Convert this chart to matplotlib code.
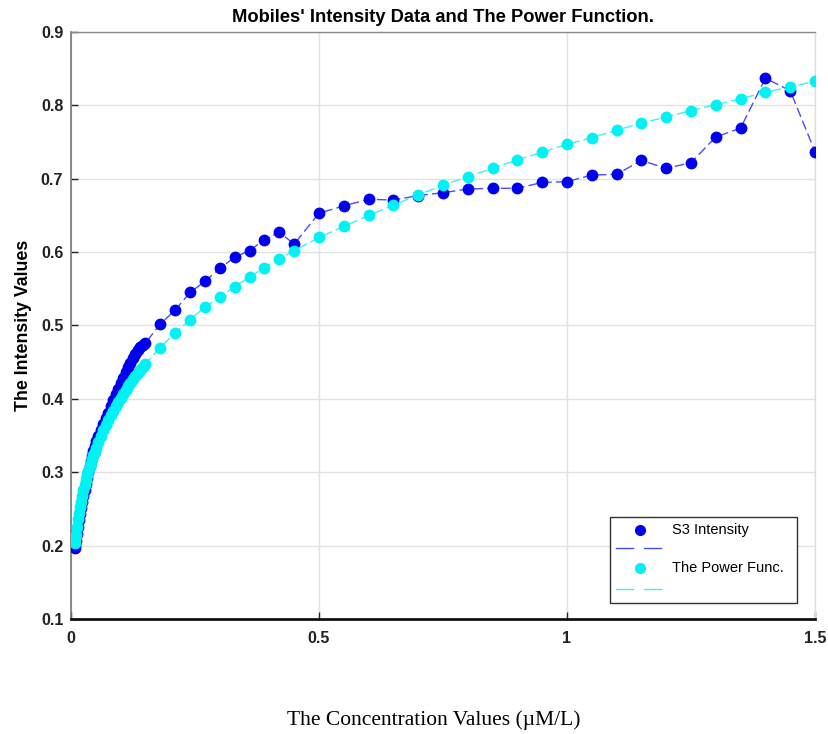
import matplotlib
matplotlib.use("Agg")
import matplotlib.pyplot as plt
from matplotlib.patches import Rectangle
from matplotlib.lines import Line2D

plt.rcParams['font.family'] = ['Liberation Sans', 'DejaVu Sans']

# Concentration grid (µM/L)
conc_dense = [0.008, 0.009, 0.010, 0.012, 0.014, 0.016, 0.018, 0.020, 0.0225, 0.025,
              0.0275, 0.030, 0.0325, 0.035, 0.0375, 0.040, 0.0425, 0.045, 0.0475, 0.050,
              0.055, 0.060, 0.065, 0.070, 0.075, 0.080, 0.085, 0.090, 0.095, 0.100,
              0.105, 0.110, 0.115, 0.120, 0.125, 0.130, 0.135, 0.140, 0.145, 0.150]
conc_mid = [0.18, 0.21, 0.24, 0.27, 0.30, 0.33, 0.36, 0.39, 0.42, 0.45]
conc_high = [0.50, 0.55, 0.60, 0.65, 0.70, 0.75, 0.80, 0.85, 0.90, 0.95, 1.00,
             1.05, 1.10, 1.15, 1.20, 1.25, 1.30, 1.35, 1.40, 1.45, 1.50]

# Measured S3 intensity
s3_dense = [0.197, 0.201, 0.206, 0.216, 0.226, 0.235, 0.243, 0.251, 0.260, 0.268,
            0.276, 0.284, 0.292, 0.300, 0.308, 0.315, 0.322, 0.329, 0.336, 0.342,
            0.350, 0.358, 0.366, 0.374, 0.381, 0.390, 0.399, 0.407, 0.413, 0.421,
            0.428, 0.436, 0.444, 0.449, 0.456, 0.461, 0.466, 0.471, 0.474, 0.476]
s3_mid = [0.502, 0.521, 0.545, 0.560, 0.578, 0.593, 0.602, 0.617, 0.627, 0.611]
s3_high = [0.653, 0.663, 0.672, 0.671, 0.677, 0.681, 0.686, 0.687, 0.687, 0.695, 0.696,
           0.705, 0.706, 0.725, 0.714, 0.722, 0.757, 0.769, 0.837, 0.820, 0.737]

# Fitted power function
pf_dense = [0.203, 0.209, 0.215, 0.226, 0.236, 0.245, 0.252, 0.260, 0.268, 0.276,
            0.283, 0.290, 0.296, 0.302, 0.308, 0.313, 0.318, 0.323, 0.328, 0.333,
            0.341, 0.349, 0.357, 0.364, 0.371, 0.378, 0.384, 0.390, 0.396, 0.401,
            0.407, 0.412, 0.417, 0.422, 0.427, 0.431, 0.435, 0.439, 0.444, 0.448]
pf_mid = [0.470, 0.490, 0.508, 0.525, 0.539, 0.553, 0.566, 0.579, 0.591, 0.602]
pf_high = [0.620, 0.635, 0.650, 0.664, 0.678, 0.691, 0.703, 0.714, 0.726, 0.736, 0.747,
           0.756, 0.766, 0.776, 0.784, 0.793, 0.801, 0.809, 0.818, 0.825, 0.833]

series_labels = ["S3 Intensity", "The Power Func."]
x_ticks = [0, 0.5, 1, 1.5]
x_ticklabels = ["0", "0.5", "1", "1.5"]
y_ticks = [0.1, 0.2, 0.3, 0.4, 0.5, 0.6, 0.7, 0.8, 0.9]
y_ticklabels = ["0.1", "0.2", "0.3", "0.4", "0.5", "0.6", "0.7", "0.8", "0.9"]

conc = conc_dense + conc_mid + conc_high
s3 = s3_dense + s3_mid + s3_high
pf = pf_dense + pf_mid + pf_high

BLUE = "#0000ee"
BLUE_LINE = "#4a4aff"
CYAN = "#00f2f2"
CYAN_LINE = "#40f0f0"
MS = 7.5

fig = plt.figure(figsize=(8.29, 7.34), dpi=100)
ax = fig.add_axes([0.0856, 0.1567, 0.8975, 0.7997])

dash = (7, 3)
ax.plot(conc, s3, color=BLUE_LINE, lw=1.0, dashes=dash, zorder=3)
ax.plot(conc, s3, 'o', color=BLUE, ms=MS, mec=BLUE, zorder=4)
ax.plot(conc, pf, color=CYAN_LINE, lw=1.0, dashes=dash, zorder=5)
ax.plot(conc, pf, 'o', color=CYAN, ms=MS, mec=CYAN, zorder=6)

ax.set_xlim(0, 1.5)
ax.set_ylim(0.1, 0.9)
ax.set_xticks(x_ticks)
ax.set_xticklabels(x_ticklabels)
ax.set_yticks(y_ticks)
ax.set_yticklabels(y_ticklabels)
ax.tick_params(direction='in', length=5, width=1, labelsize=11.6,
               colors='#222222')
ax.tick_params(axis='x', pad=8.5)
ax.tick_params(axis='y', pad=5.5)
for lab in ax.get_xticklabels() + ax.get_yticklabels():
    lab.set_fontweight('bold')

ax.grid(True, color='#e2e2e2', lw=1.0, zorder=0)
ax.set_axisbelow(True)

ax.spines['left'].set_color('#777777')
ax.spines['left'].set_linewidth(1.2)
ax.spines['bottom'].set_color('#111111')
ax.spines['bottom'].set_linewidth(2.0)
ax.spines['top'].set_color('#8a8a8a')
ax.spines['top'].set_linewidth(1.0)
ax.spines['right'].set_color('#dddddd')
ax.spines['right'].set_linewidth(1.0)

ax.set_title("Mobiles' Intensity Data and The Power Function.",
             fontsize=13.2, fontweight='bold', pad=7)
ax.set_ylabel("The Intensity Values", fontsize=12.8, fontweight='bold', labelpad=6)
fig.text(434 / 829, 1 - 720 / 734, "The Concentration Values (\u00b5M/L)",
         family=['Liberation Serif', 'DejaVu Serif'], fontsize=15.5,
         ha='center', va='center')

# Legend box: marker on one row, dashed line on the row below
tr = ax.transAxes
ax.add_patch(Rectangle((0.7245, 0.0273), 0.2513, 0.1465, transform=tr,
                       facecolor='white', edgecolor='#333333', lw=1.0, zorder=10))
rows = [(BLUE, BLUE_LINE, 0.1516, 0.121), (CYAN, CYAN_LINE, 0.0869, 0.0511)]
for (mc, lc, ym, yl), label in zip(rows, series_labels):
    ax.add_line(Line2D([0.7648], [ym], marker='o', color=mc, ms=7, mec=mc,
                       transform=tr, zorder=11))
    for x0, x1 in [(0.7325, 0.7554), (0.7702, 0.7930)]:
        ax.add_line(Line2D([x0, x1], [yl, yl], color=lc, lw=1.0,
                           transform=tr, zorder=11))
    ax.text(0.8078, ym, label, transform=tr, fontsize=10.5, ha='left',
            va='center', zorder=12)

fig.savefig("out.png", dpi=100)
